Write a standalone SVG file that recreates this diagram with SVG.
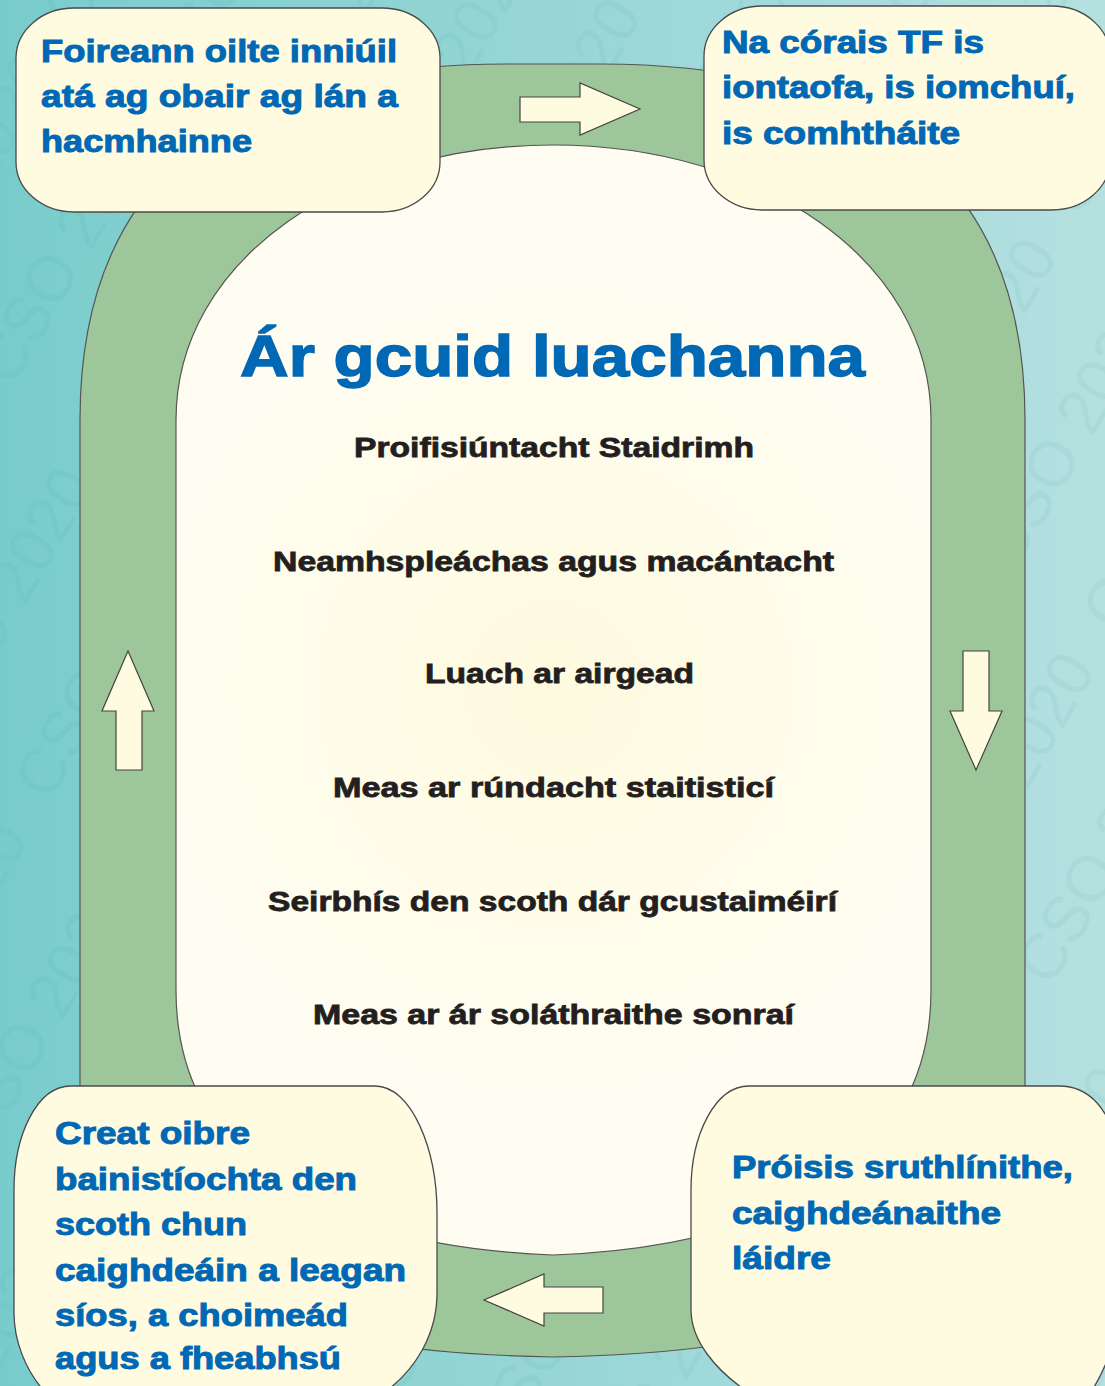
<svg xmlns="http://www.w3.org/2000/svg" width="1105" height="1386" viewBox="0 0 1105 1386">
<defs>
  <linearGradient id="bg" x1="0" y1="0" x2="1" y2="0">
    <stop offset="0" stop-color="#79cccc"/>
    <stop offset="1" stop-color="#b5e0e0"/>
  </linearGradient>
  <radialGradient id="innerFill" cx="555" cy="690" r="420" gradientUnits="userSpaceOnUse">
    <stop offset="0" stop-color="#fefadf"/>
    <stop offset="1" stop-color="#fffdf2"/>
  </radialGradient>
  <pattern id="wm" patternUnits="userSpaceOnUse" width="340" height="120" patternTransform="rotate(-60)">
    <text x="10" y="85" class="wm">CSO 2020</text>
  </pattern>
  <style>
    .wm { font-family: "Liberation Sans", Arial, sans-serif; font-size: 64px; fill: #2f8f90; fill-opacity: 0.07; }
    .ring { fill: #9dc79a; stroke: #555; stroke-width: 1.2; }
    .inner { fill: url(#innerFill); stroke: #555; stroke-width: 1.2; }
    .node { fill: #fffbe0; stroke: #4a4a4a; stroke-width: 1.3; }
    .arrow { fill: #fffbe0; stroke: #444; stroke-width: 1.2; stroke-linejoin: miter; }
    .blue { font-family: "Liberation Sans", Arial, Helvetica, sans-serif; font-weight: bold; font-size: 32px; fill: #0068b4; stroke: #0068b4; stroke-width: 1; }
    .title { font-family: "Liberation Sans", Arial, Helvetica, sans-serif; font-weight: bold; font-size: 57px; fill: #0068b4; stroke: #0068b4; stroke-width: 1.4; }
    .val { font-family: "Liberation Sans", Arial, Helvetica, sans-serif; font-weight: bold; font-size: 28px; fill: #231f20; stroke: #231f20; stroke-width: 0.8; }
  </style>
</defs>

<g id="background">
  <rect x="0" y="0" width="1105" height="1386" fill="url(#bg)"/>
  <rect x="0" y="0" width="1105" height="1386" fill="url(#wm)"/>
</g>

<g id="ring">
  <path class="ring" d="M 80,1100 L 80,420 C 80,200 205,64 505,64 L 600,64 C 900,64 1025,200 1025,420 L 1025,1100 C 1025,1280 850,1352 553,1357 C 256,1352 80,1280 80,1100 Z"/>
</g>

<g id="center">
  <path class="inner" d="M 176,990 L 176,420 C 176,260 345,145 553,145 C 761,145 931,260 931,420 L 931,990 C 931,1150 800,1245 553,1255 C 306,1245 176,1150 176,990 Z"/>
  <text class="title" x="240" y="376" textLength="625" lengthAdjust="spacingAndGlyphs">Ár gcuid luachanna</text>
  <text class="val" x="354" y="457" textLength="400" lengthAdjust="spacingAndGlyphs">Proifisiúntacht Staidrimh</text>
  <text class="val" x="273" y="571" textLength="561" lengthAdjust="spacingAndGlyphs">Neamhspleáchas agus macántacht</text>
  <text class="val" x="425" y="683" textLength="269" lengthAdjust="spacingAndGlyphs">Luach ar airgead</text>
  <text class="val" x="333" y="797" textLength="441" lengthAdjust="spacingAndGlyphs">Meas ar rúndacht staitisticí</text>
  <text class="val" x="268" y="911" textLength="569" lengthAdjust="spacingAndGlyphs">Seirbhís den scoth dár gcustaiméirí</text>
  <text class="val" x="313" y="1024" textLength="481" lengthAdjust="spacingAndGlyphs">Meas ar ár soláthraithe sonraí</text>
</g>

<g id="connectors">
  <polygon class="arrow" points="520,97 580,97 580,83 640,109 580,135 580,122 520,122"/>
  <polygon class="arrow" points="963,651 989,651 989,711 1002,711 976,770 950,711 963,711"/>
  <polygon class="arrow" points="603,1287 544,1287 544,1274 484,1300 544,1326 544,1313 603,1313"/>
  <polygon class="arrow" points="116,770 142,770 142,711 154,711 128,651 102,711 116,711"/>
</g>

<g id="node-staff">
  <rect class="node" x="16" y="8" width="424" height="204" rx="58" ry="50"/>
  <text class="blue" x="41" y="62" textLength="356" lengthAdjust="spacingAndGlyphs">Foireann oilte inniúil</text>
  <text class="blue" x="41" y="107" textLength="357" lengthAdjust="spacingAndGlyphs">atá ag obair ag lán a</text>
  <text class="blue" x="41" y="152" textLength="211" lengthAdjust="spacingAndGlyphs">hacmhainne</text>
</g>

<g id="node-it">
  <rect class="node" x="704" y="6" width="406" height="204" rx="58" ry="50"/>
  <text class="blue" x="722" y="53" textLength="262" lengthAdjust="spacingAndGlyphs">Na córais TF is</text>
  <text class="blue" x="722" y="98" textLength="353" lengthAdjust="spacingAndGlyphs">iontaofa, is iomchuí,</text>
  <text class="blue" x="722" y="144" textLength="238" lengthAdjust="spacingAndGlyphs">is comhtháite</text>
</g>

<g id="node-processes">
  <path class="node" d="M 749,1086 L 1059,1086 C 1090,1086 1110,1110 1118,1150 L 1120,1300 C 1118,1340 1105,1370 1091,1392 L 748,1392 C 715,1370 691,1340 691,1310 L 691,1190 C 691,1135 715,1086 749,1086 Z"/>
  <text class="blue" x="732" y="1178" textLength="341" lengthAdjust="spacingAndGlyphs">Próisis sruthlínithe,</text>
  <text class="blue" x="732" y="1224" textLength="269" lengthAdjust="spacingAndGlyphs">caighdeánaithe</text>
  <text class="blue" x="732" y="1269" textLength="99" lengthAdjust="spacingAndGlyphs">láidre</text>
</g>

<g id="node-management">
  <path class="node" d="M 71,1086 L 375,1086 C 412,1086 437,1150 437,1213 L 437,1293 C 437,1335 415,1370 385,1392 L 45,1392 C 25,1370 14,1340 14,1313 L 14,1190 C 14,1135 37,1086 71,1086 Z"/>
  <text class="blue" x="55" y="1144" textLength="195" lengthAdjust="spacingAndGlyphs">Creat oibre</text>
  <text class="blue" x="55" y="1190" textLength="302" lengthAdjust="spacingAndGlyphs">bainistíochta den</text>
  <text class="blue" x="55" y="1235" textLength="192" lengthAdjust="spacingAndGlyphs">scoth chun</text>
  <text class="blue" x="55" y="1281" textLength="351" lengthAdjust="spacingAndGlyphs">caighdeáin a leagan</text>
  <text class="blue" x="55" y="1326" textLength="293" lengthAdjust="spacingAndGlyphs">síos, a choimeád</text>
  <text class="blue" x="55" y="1369" textLength="286" lengthAdjust="spacingAndGlyphs">agus a fheabhsú</text>
</g>
</svg>
